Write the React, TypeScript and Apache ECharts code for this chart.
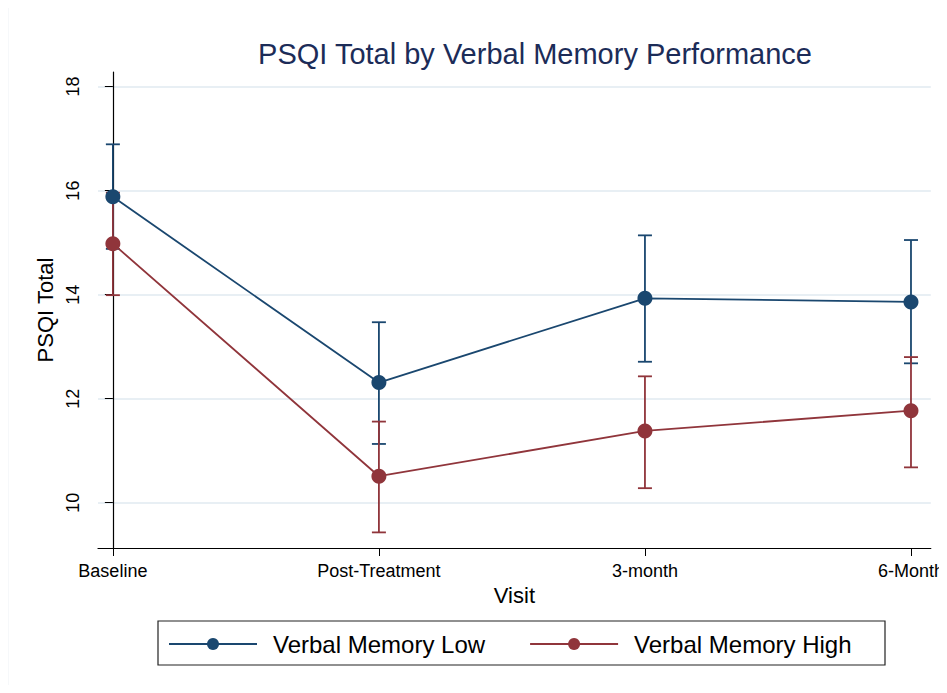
import React, { useEffect, useRef } from "react";
import * as echarts from "echarts";

const visits = ["Baseline", "Post-Treatment", "3-month", "6-Month"];
const yTicks = [10, 12, 14, 16, 18];

const lowMean = [15.88, 12.31, 13.93, 13.86];
const lowLower = [14.88, 11.13, 12.71, 12.68];
const lowUpper = [16.89, 13.47, 15.14, 15.05];

const highMean = [14.98, 10.51, 11.38, 11.77];
const highLower = [13.99, 9.43, 10.28, 10.68];
const highUpper = [15.96, 11.56, 12.43, 12.8];

const BLUE = "#1a476f";
const RED = "#90353b";
const FONT = "'Liberation Sans', Arial, Helvetica, sans-serif";

function errBarSeries(name: string, lower: number[], upper: number[], color: string) {
  return {
    type: "custom",
    name,
    z: 2,
    silent: true,
    data: visits.map((_, i) => [i, lower[i], upper[i]]),
    encode: { x: 0, y: [1, 2] },
    renderItem: (_params: any, api: any) => {
      const x = api.value(0);
      const p1 = api.coord([x, api.value(1)]);
      const p2 = api.coord([x, api.value(2)]);
      const w = 7;
      const st = { stroke: color, lineWidth: 1.8 };
      return {
        type: "group",
        children: [
          { type: "line", shape: { x1: p1[0], y1: p1[1], x2: p2[0], y2: p2[1] }, style: st },
          { type: "line", shape: { x1: p1[0] - w, y1: p1[1], x2: p1[0] + w, y2: p1[1] }, style: st },
          { type: "line", shape: { x1: p2[0] - w, y1: p2[1], x2: p2[0] + w, y2: p2[1] }, style: st },
        ],
      };
    },
  };
}

function lineSeries(name: string, mean: number[], color: string) {
  return {
    type: "line",
    name,
    z: 3,
    data: visits.map((_, i) => [i, mean[i]]),
    symbol: "circle",
    symbolSize: 15,
    showSymbol: true,
    lineStyle: { color, width: 1.8 },
    itemStyle: { color },
    emphasis: { disabled: true },
  };
}

export default function App() {
  const ref = useRef<HTMLDivElement>(null);
  useEffect(() => {
    if (!ref.current) return;
    const chart = echarts.init(ref.current, null, { renderer: "svg" });
    chart.setOption({
      animation: false,
      backgroundColor: "#ffffff",
      textStyle: { fontFamily: FONT },
      title: {
        text: "PSQI Total by Verbal Memory Performance",
        left: 530,
        top: 34,
        textAlign: "center",
        textStyle: { color: "#1c2c58", fontSize: 29, fontWeight: "normal", fontFamily: FONT },
      },
      grid: { left: 98, right: 10, top: 72, bottom: 145, containLabel: false },
      xAxis: {
        type: "value",
        min: -0.0559,
        max: 3.0745,
        name: "Visit",
        nameLocation: "middle",
        nameGap: 34,
        nameTextStyle: { fontSize: 22, color: "#000", fontFamily: FONT },
        axisLine: { show: true, lineStyle: { color: "#000", width: 1.2 } },
        axisTick: { show: true, length: 8, customValues: [0, 1, 2, 3], lineStyle: { color: "#000" } },
        axisLabel: {
          customValues: [0, 1, 2, 3],
          formatter: (v: number) => visits[Math.round(v)] ?? "",
          fontSize: 18,
          color: "#000",
          margin: 14,
          fontFamily: FONT,
          hideOverlap: false,
        },
        splitLine: { show: false },
      },
      yAxis: {
        type: "value",
        min: 9.13,
        max: 18.28,
        name: "PSQI Total",
        nameLocation: "middle",
        nameGap: 42,
        nameTextStyle: { fontSize: 22, color: "#000", fontFamily: FONT },
        axisLine: { show: true, lineStyle: { color: "#000", width: 1.2 } },
        axisTick: { show: true, length: 8, customValues: yTicks, lineStyle: { color: "#000" } },
        axisLabel: {
          customValues: yTicks,
          rotate: 90,
          fontSize: 18,
          color: "#000",
          margin: 16,
          fontFamily: FONT,
        },
        splitLine: { show: true, lineStyle: { color: "#e1eaf0", width: 1.5 } },
      },
      legend: {
        data: ["Verbal Memory Low", "Verbal Memory High"],
        left: 168,
        top: 632,
        padding: 0,
        itemWidth: 88,
        itemHeight: 15,
        itemGap: 44,
        selectedMode: false,
        textStyle: { fontSize: 24, color: "#000", fontFamily: FONT, padding: [0, 0, 0, 11] },
      },
      graphic: [
        {
          type: "rect",
          shape: { x: 158, y: 621, width: 727, height: 44 },
          style: { fill: "none", stroke: "#222", lineWidth: 1.2 },
          silent: true,
        },
        {
          type: "line",
          shape: { x1: 8, y1: 0, x2: 8, y2: 693 },
          style: { stroke: "#eef2f5", lineWidth: 1 },
          silent: true,
        },
      ],
      series: [
        errBarSeries("Low CI", lowLower, lowUpper, BLUE),
        errBarSeries("High CI", highLower, highUpper, RED),
        lineSeries("Verbal Memory Low", lowMean, BLUE),
        lineSeries("Verbal Memory High", highMean, RED),
      ],
    });
    return () => chart.dispose();
  }, []);
  return <div ref={ref} style={{ width: 947, height: 693, margin: -8 }} />;
}
